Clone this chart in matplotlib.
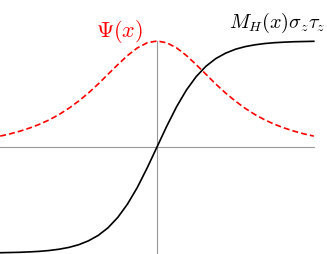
import matplotlib
matplotlib.use("Agg")
import matplotlib.pyplot as plt

plt.rcParams['mathtext.fontset'] = 'cm'
plt.rcParams['lines.scale_dashes'] = False

# sample positions (x) and curve values
x = [-3.2, -3.0, -2.8, -2.6, -2.4, -2.2, -2.0, -1.8, -1.6, -1.4, -1.2, -1.0,
     -0.8, -0.6, -0.4, -0.2, 0.0, 0.2, 0.4, 0.6, 0.8, 1.0, 1.2, 1.4, 1.6,
     1.8, 2.0, 2.2, 2.4, 2.6, 2.8, 3.0, 3.2]
mass = [-0.997, -0.995, -0.993, -0.989, -0.984, -0.976, -0.964, -0.947, -0.922,
        -0.885, -0.834, -0.762, -0.664, -0.537, -0.380, -0.197, 0.0, 0.197,
        0.380, 0.537, 0.664, 0.762, 0.834, 0.885, 0.922, 0.947, 0.964, 0.976,
        0.984, 0.989, 0.993, 0.995, 0.997]
psi = [0.103, 0.124, 0.149, 0.179, 0.214, 0.256, 0.306, 0.365, 0.433, 0.509,
       0.594, 0.686, 0.777, 0.863, 0.935, 0.983, 1.0, 0.983, 0.935, 0.863,
       0.777, 0.686, 0.594, 0.509, 0.433, 0.365, 0.306, 0.256, 0.214, 0.179,
       0.149, 0.124, 0.103]

psi_label = r'$\Psi(x)$'
mass_label = r'$M_H(x)\sigma_z\tau_z$'

fig = plt.figure(figsize=(3.27, 2.55), dpi=100)
ax = fig.add_axes([0, 0, 1, 1])
ax.set_xlim(-3.204, 3.47)
ax.set_ylim(-1.009, 1.396)
ax.axis('off')

ax.plot([x[0], x[-1]], [0, 0], color='#999999', lw=0.8, zorder=1)
ax.plot([0, 0], [-1.02, 1.0], color='#999999', lw=0.8, zorder=1)

ax.plot(x, mass, color='black', lw=1.2, zorder=3)
ax.plot(x, psi, color='red', lw=1.2, dashes=(4.3, 2.2), zorder=2)

fig.text(96 / 327, 1 - 36.7 / 255, psi_label, color='red', fontsize=16,
         ha='left', va='baseline')
fig.text(325 / 327, 1 - 27.8 / 255, mass_label, color='black', fontsize=14.5,
         ha='right', va='baseline')

fig.savefig('out.png', dpi=100)
